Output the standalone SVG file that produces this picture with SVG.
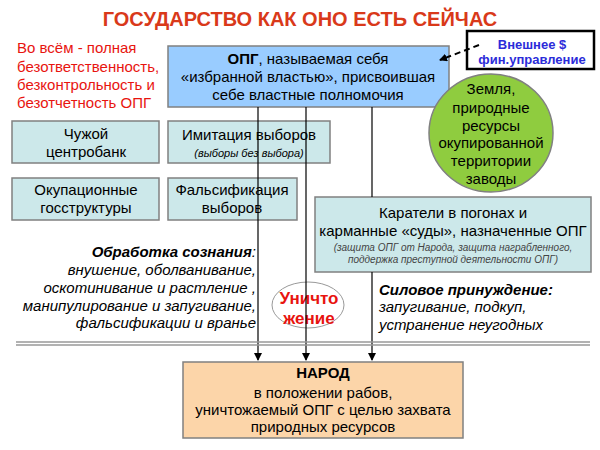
<svg xmlns="http://www.w3.org/2000/svg" width="600" height="450" viewBox="0 0 600 450">
<defs>
<style>
text{font-family:"Liberation Sans",Arial,sans-serif;font-size:15px;fill:#000;text-anchor:middle}
.box{stroke:#808080;stroke-width:1.5}
.teal{fill:#cce8ea}
.it{font-style:italic}
.l{text-anchor:start}
.r{text-anchor:end}
.red{fill:#e8140f}
</style>
<marker id="ah" markerWidth="8" markerHeight="8" refX="7" refY="4" orient="auto" markerUnits="userSpaceOnUse"><path d="M0,0 L8,4 L0,8 Z" fill="#000"/></marker>
</defs>
<rect width="600" height="450" fill="#fff"/>
<text x="300" y="26" style="font-size:20px;font-weight:bold;fill:#d9391a">ГОСУДАРСТВО КАК ОНО ЕСТЬ СЕЙЧАС</text>
<g id="note" class="red">
<text class="l red" x="17" y="53">Во всём - полная</text>
<text class="l red" x="17" y="72">безответственность,</text>
<text class="l red" x="17" y="90">безконтрольность и</text>
<text class="l red" x="17" y="108">безотчетность ОПГ</text>
</g>
<g id="opg">
<rect class="box" x="168" y="46" width="281" height="61" fill="#99ccff"/>
<text x="308" y="64"><tspan font-weight="bold">ОПГ</tspan>, называемая себя</text>
<text x="308" y="82">«избранной властью», присвоившая</text>
<text x="308" y="100">себе властные полномочия</text>
</g>
<g id="ext">
<rect x="467" y="31" width="127" height="38" fill="#fff" stroke="#000" stroke-width="2.5"/>
<text x="532" y="49" style="font-size:13px;font-weight:bold;fill:#2b2bd9">Внешнее $</text>
<text x="532" y="64" style="font-size:13px;font-weight:bold;fill:#2b2bd9">фин.управление</text>
</g>
<g id="earth">
<ellipse cx="491" cy="133" rx="62" ry="59" fill="#8fcc3f" stroke="#808080" stroke-width="1.5"/>
<text x="491" y="94">Земля,</text>
<text x="491" y="113">природные</text>
<text x="491" y="131">ресурсы</text>
<text x="491" y="148">окупированной</text>
<text x="491" y="166">территории</text>
<text x="491" y="184">заводы</text>
</g>
<g id="bank">
<rect class="box teal" x="12" y="121" width="147" height="42"/>
<text x="86" y="139">Чужой</text>
<text x="86" y="157">центробанк</text>
</g>
<g id="imit">
<rect class="box teal" x="168" y="121" width="162" height="42"/>
<text x="249" y="140">Имитация выборов</text>
<text x="249" y="157" class="it" style="font-size:11px">(выборы без выбора)</text>
</g>
<g id="occ">
<rect class="box teal" x="12" y="178" width="147" height="42"/>
<text x="86" y="195">Окупационные</text>
<text x="86" y="213">госструктуры</text>
</g>
<g id="fals">
<rect class="box teal" x="168" y="178" width="129" height="42"/>
<text x="232" y="195">Фальсификация</text>
<text x="232" y="213">выборов</text>
</g>
<g id="karat">
<rect class="box teal" x="315" y="197" width="276" height="75"/>
<text x="453" y="218">Каратели в погонах и</text>
<text x="453" y="236">карманные «суды», назначенные ОПГ</text>
<text x="453" y="251" class="it" style="font-size:10px;fill:#444">(защита ОПГ от Народа, защита награбленного,</text>
<text x="453" y="263" class="it" style="font-size:10px;fill:#444">поддержка преступной деятельности ОПГ)</text>
</g>
<g id="obr">
<text class="r it" x="256" y="257"><tspan font-weight="bold">Обработка сознания</tspan>:</text>
<text class="r it" x="256" y="275">внушение, оболванивание,</text>
<text class="r it" x="256" y="293">оскотинивание и растление ,</text>
<text class="r it" x="256" y="311">манипулирование и запугивание,</text>
<text class="r it" x="256" y="328">фальсификации и вранье</text>
</g>
<g id="sil">
<text class="l it" x="379" y="295" font-weight="bold">Силовое принуждение:</text>
<text class="l it" x="379" y="312">запугивание, подкуп,</text>
<text class="l it" x="379" y="330">устранение  неугодных</text>
</g>
<g id="unich">
<ellipse cx="308" cy="305" rx="36" ry="23" fill="#fff" stroke="#999" stroke-width="1"/>
<text x="309" y="304" class="red" style="font-size:17px;font-weight:bold">Уничто</text>
<text x="309" y="324" class="red" style="font-size:17px;font-weight:bold">жение</text>
</g>
<g id="connectors">
<line x1="258" y1="107" x2="258" y2="360" stroke="#000" stroke-width="1.2" marker-end="url(#ah)"/>
<line x1="306" y1="107" x2="306" y2="360" stroke="#000" stroke-width="1.2" marker-end="url(#ah)"/>
<line x1="372" y1="107" x2="372" y2="197" stroke="#000" stroke-width="1.2"/>
<line x1="372" y1="272" x2="372" y2="360" stroke="#000" stroke-width="1.2" marker-end="url(#ah)"/>
<line x1="479" y1="45" x2="440" y2="60" stroke="#000" stroke-width="2" stroke-dasharray="6,4" marker-end="url(#ah)"/>
<line x1="16" y1="342" x2="590" y2="342" stroke="#999" stroke-width="1.5"/>
<line x1="16" y1="345" x2="590" y2="345" stroke="#999" stroke-width="1.5"/>
</g>
<g id="narod">
<rect class="box" x="183" y="362" width="280" height="76" fill="#fcd5a9"/>
<text x="323" y="378" font-weight="bold">НАРОД</text>
<text x="323" y="398">в положении рабов,</text>
<text x="323" y="415">уничтожаемый ОПГ с целью захвата</text>
<text x="323" y="432">природных ресурсов</text>
</g>
</svg>
